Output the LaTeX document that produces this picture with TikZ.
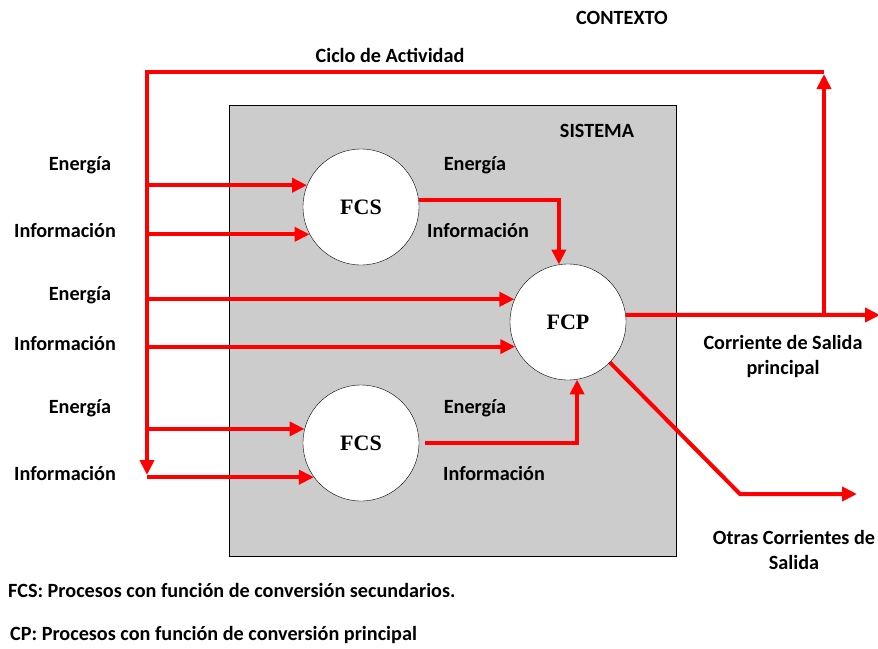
\documentclass[tikz,border=0pt]{standalone}
\usepackage{fontspec}
\setmainfont{Carlito}
\newfontfamily\circfont{Liberation Serif}
\usetikzlibrary{arrows.meta}

\begin{document}
\begin{tikzpicture}[x=1pt, y=-1pt,
        every node/.style={font=\fontsize{20.2}{25}\selectfont\bfseries},
        proc/.style={circle, draw, thin, fill=white, minimum size=116pt, inner sep=0pt, font=\fontsize{22}{24}\circfont\bfseries},
        flow/.style={draw=red, line width=4pt, -{Triangle[length=15pt, width=14pt]}},
        cycle line/.style={draw=red, line width=4pt}]
        \useasboundingbox (0,0) rectangle (878,648);
        % System box
        \draw[fill=gray!40, line width=0.8pt] (229,105) rectangle (676,556);
        % Nodes
        \node (contexto) at (622,18) {CONTEXTO};
        \node (ciclo) at (390,55) {Ciclo de Actividad};
        \node (sistema) at (597,131) {SISTEMA};
        \node (fcs1) [proc] at (361,207) {FCS};
        \node (fcp) [proc] at (568,322) {FCP};
        \node (fcs2) [proc] at (361,443) {FCS};
        \node (energia1) at (80,165) {Energía};
        \node (info1) at (65,230) {Información};
        \node (energia2) at (80,295) {Energía};
        \node (info2) at (65,343) {Información};
        \node (energia3) at (80,408) {Energía};
        \node (info3) at (65,473) {Información};
        \node (energia4) at (475,165) {Energía};
        \node (info4) at (478,230) {Información};
        \node (energia5) at (475,408) {Energía};
        \node (info5) at (494,473) {Información};
        \node (salida) [align=center] at (783,356) {Corriente de Salida\\principal};
        \node (otras) [align=center, inner sep=0pt] at (794,550) {Otras Corrientes de\\Salida};
        \node (leg-fcs) [anchor=west, inner sep=0pt] at (8,590) {FCS: Procesos con función de conversión secundarios.};
        \node (leg-cp) [anchor=west, inner sep=0pt] at (10,635) {CP: Procesos con función de conversión principal};
        % Coordinates
        \coordinate (bus) at (147,72);
        \coordinate (bus-end) at (147,475);
        \coordinate (cyc-r) at (824,72);
        \coordinate (out-split) at (824,315);
        \coordinate (out-end) at (880,315);
        \coordinate (bend) at (740,494);
        \coordinate (otras-end) at (857,494);
        % Arrow
        \draw[flow] (cyc-r) -- (bus) -- (bus-end);
        \draw[flow] (fcs1.158 -| bus) -- (fcs1.158);
        \draw[flow] (fcs1.208 -| bus) -- (fcs1.208);
        \draw[flow] (fcp.157 -| bus) -- (fcp.157);
        \draw[flow] (fcp.205 -| bus) -- (fcp.205);
        \draw[flow] (fcs2.166 -| bus) -- (fcs2.166);
        \draw[flow] (fcs2.216 -| bus) -- (fcs2.216);
        \draw[flow] (fcs1.7) -| (fcp.99);
        \draw[flow] ([xshift=6pt]fcs2.east) -| (fcp.279);
        \draw[flow] (fcp.7) -- (out-end);
        \draw[flow, shorten >=2pt] (out-split) -- (cyc-r);
        \draw[flow] (fcp.316) -- (bend) -- (otras-end);
\end{tikzpicture}
\end{document}
